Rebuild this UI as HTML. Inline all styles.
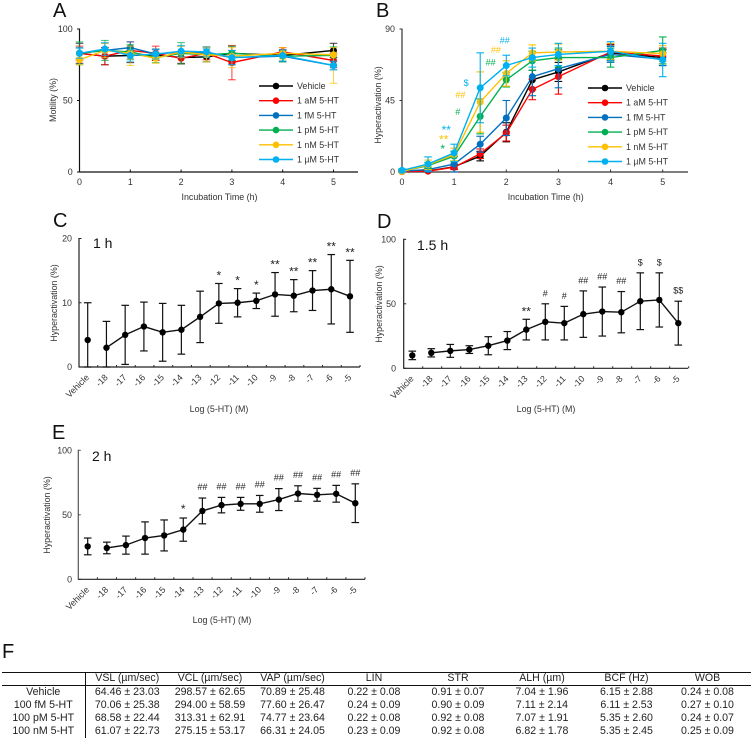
<!DOCTYPE html>
<html lang="en">
<head>
<meta charset="utf-8">
<title>Motility and hyperactivation charts</title>
<style>
html,body{margin:0;padding:0;background:#fff;width:751px;height:739px;overflow:hidden}
svg{position:absolute;left:0;top:0;font-family:"Liberation Sans",Arial,sans-serif;filter:blur(0.3px)}
#motion-table{position:absolute;left:2px;top:672px;width:749px;table-layout:fixed;border-collapse:collapse;font-family:"Liberation Sans",Arial,sans-serif;font-size:10.6px;color:#222;border-top:1.4px solid #111;filter:blur(0.3px)}
#motion-table td,#motion-table th{padding:0;text-align:center;font-weight:normal;white-space:nowrap;height:13.2px;line-height:13.2px}
#motion-table thead th{height:11.5px;line-height:11.5px;border-bottom:1.6px solid #111}
#motion-table tr>*:first-child{border-right:1.8px solid #111}
</style>
</head>
<body>
<svg id="chart" width="751" height="739" viewBox="0 0 751 739" xmlns="http://www.w3.org/2000/svg"></svg>

<table id="motion-table">
<colgroup><col style="width:83px"><col style="width:84px"><col style="width:82px"><col style="width:83px"><col style="width:80px"><col style="width:88px"><col style="width:80px"><col style="width:89px"><col style="width:73px"><col style="width:7px"></colgroup>
<thead><tr><th></th><th>VSL (µm/sec)</th><th>VCL (µm/sec)</th><th>VAP (µm/sec)</th><th>LIN</th><th>STR</th><th>ALH (µm)</th><th>BCF (Hz)</th><th>WOB</th><th></th></tr></thead>
<tbody>
<tr><td>Vehicle</td><td>64.46 ± 23.03</td><td>298.57 ± 62.65</td><td>70.89 ± 25.48</td><td>0.22 ± 0.08</td><td>0.91 ± 0.07</td><td>7.04 ± 1.96</td><td>6.15 ± 2.88</td><td>0.24 ± 0.08</td><td></td></tr>
<tr><td>100 fM 5-HT</td><td>70.06 ± 25.38</td><td>294.00 ± 58.59</td><td>77.60 ± 26.47</td><td>0.24 ± 0.09</td><td>0.90 ± 0.09</td><td>7.11 ± 2.14</td><td>6.11 ± 2.53</td><td>0.27 ± 0.10</td><td></td></tr>
<tr><td>100 pM 5-HT</td><td>68.58 ± 22.44</td><td>313.31 ± 62.91</td><td>74.77 ± 23.64</td><td>0.22 ± 0.08</td><td>0.92 ± 0.08</td><td>7.07 ± 1.91</td><td>5.35 ± 2.60</td><td>0.24 ± 0.07</td><td></td></tr>
<tr><td>100 nM 5-HT</td><td>61.07 ± 22.73</td><td>275.15 ± 53.17</td><td>66.31 ± 24.05</td><td>0.23 ± 0.09</td><td>0.92 ± 0.08</td><td>6.82 ± 1.78</td><td>5.35 ± 2.45</td><td>0.25 ± 0.09</td><td></td></tr>
</tbody>
</table>

<script>
/* ---------- Time-course data (panels A, B) ---------- */
const hours = [0, 0.5, 1, 1.5, 2, 2.5, 3, 4, 5];
const seriesNames = ["Vehicle", "1 aM 5-HT", "1 fM 5-HT", "1 pM 5-HT", "1 nM 5-HT", "1 µM 5-HT"];
const seriesColors = ["#000000", "#ff0000", "#0070c0", "#00b050", "#ffc000", "#00b0f0"];

const motilityVehicle = [83, 81, 81.5, 82, 80, 80.5, 83, 81.5, 85];
const motilityAM = [83, 81, 85, 83, 79.5, 83, 76.5, 84, 78];
const motilityFM = [83, 85, 87, 82.5, 84, 83, 80, 81, 74.5];
const motilityPM = [83, 85, 84, 80, 83, 82, 83, 81, 81.5];
const motilityNM = [78.5, 85, 83, 79.5, 84, 82, 81, 83, 82];
const motilityUM = [83, 86, 81.5, 82.5, 84.5, 84, 80, 81.5, 74.5];
const motilityErrVehicle = [7, 6, 5, 4, 4, 3.5, 5, 4, 5];
const motilityErrAM = [5, 6, 6, 5, 4, 4.5, 12, 3, 5];
const motilityErrFM = [4, 5, 4, 3, 4, 3, 5, 4, 3];
const motilityErrPM = [8, 7, 5, 3.5, 7.5, 5, 5, 4, 6];
const motilityErrNM = [3.5, 5, 8.5, 3.5, 4, 5, 8, 4, 20];
const motilityErrUM = [3.5, 4.5, 4, 3.5, 4, 3.5, 5, 4, 3];
const motilityErrUpNM = [3.5, 5, 5, 3.5, 4, 5, 6, 4, 5];

const hyperVehicle = [0.3, 0.7, 3.3, 10, 25, 58, 63, 75, 72];
const hyperAM = [0.2, 0.5, 3, 11.5, 24.5, 52, 60, 75.5, 73];
const hyperFM = [0.5, 1.5, 5, 17.5, 34, 60, 65, 74, 71];
const hyperPM = [0.5, 4, 10, 35, 58, 70, 72, 72, 76.5];
const hyperNM = [0.3, 4.5, 11, 44, 62, 75, 75.5, 76, 74.5];
const hyperUM = [1, 5, 12, 53, 67, 72, 74, 76, 70.5];
const hyperErrVehicle = [0.5, 0.7, 1.5, 3, 6, 6, 6, 5, 5];
const hyperErrAM = [0.4, 0.6, 1.5, 3, 5, 6.5, 11, 5, 5];
const hyperErrFM = [0.7, 1, 5, 5, 11, 12, 12, 5, 4];
const hyperErrPM = [0.8, 2, 3, 11, 4.5, 6, 6, 6, 8.5];
const hyperErrNM = [0.8, 3, 4, 19, 8, 5, 5, 5, 5];
const hyperErrUM = [1, 4.5, 5.5, 22, 6.5, 6, 7, 6, 10.5];

/* ---------- Dose-response data (panels C, D, E) ---------- */
const doseLabels = ["Vehicle", "-18", "-17", "-16", "-15", "-14", "-13", "-12", "-11", "-10", "-9", "-8", "-7", "-6", "-5"];

const meanC = [4.2, 3.0, 5.0, 6.3, 5.4, 5.8, 7.8, 9.9, 10.0, 10.3, 11.3, 11.1, 11.9, 12.1, 11.0];
const errC = [5.8, 4.1, 4.6, 3.8, 4.5, 3.8, 4.0, 3.1, 2.2, 1.2, 3.4, 2.5, 3.1, 5.4, 5.6];
const marksC = ["", "", "", "", "", "", "", "*", "*", "*", "**", "**", "**", "**", "**"];

const meanD = [10, 12, 13.5, 14.5, 17.5, 21.5, 30, 36, 35, 42, 44, 43.5, 52, 53, 35];
const errD = [3.3, 3.2, 5, 3, 7, 7, 8, 14, 13, 18, 19, 16, 22, 21, 17];
const marksD = ["", "", "", "", "", "", "**", "#", "#", "##", "##", "##", "$", "$", "$$"];

const meanE = [25.5, 24.3, 26.5, 32, 34, 38.5, 53, 57.5, 58.5, 58.5, 61.8, 66.5, 65.5, 66.3, 59];
const errE = [6.5, 4.5, 7, 12.5, 12, 9, 10, 6, 5, 6.5, 8.5, 6, 5, 6.5, 15];
const marksE = ["", "", "", "", "", "*", "##", "##", "##", "##", "##", "##", "##", "##", "##"];

const svg = document.getElementById('chart');
const NS = 'http://www.w3.org/2000/svg';

function make(tag, attrs, parent, txt) {
  const el = document.createElementNS(NS, tag);
  for (const k in attrs) el.setAttribute(k, attrs[k]);
  if (txt !== undefined) el.textContent = txt;
  parent.appendChild(el);
  return el;
}
function label(parent, name, x, y, txt, size, anchor, fill, rotate) {
  const attrs = { x: x, y: y, 'font-size': size, 'text-anchor': anchor, fill: fill };
  if (rotate) attrs.transform = 'rotate(' + rotate + ' ' + x + ' ' + y + ')';
  const t = make('text', attrs, parent, txt);
  
  
  return t;
}
function seg(parent, x1, y1, x2, y2, color, w, op) {
  const l = make('line', { x1: x1, y1: y1, x2: x2, y2: y2, stroke: color, 'stroke-width': w }, parent);
  if (op) l.setAttribute('stroke-opacity', op);
  return l;
}
function panelGroup(name) {
  const g = make('g', {}, svg);
  
  
  return g;
}
function drawYAxis(g, c, ticks) {
  const scale = v => c.y0 + (c.yTop - c.y0) * v / c.yMax;
  seg(g, c.x0, c.yTop - .5, c.x0, c.y0 + .5, c.axisColor, 1.2);
  ticks.forEach(t => {
    const y = scale(t);
    seg(g, c.x0 + (c.tickLeft ? -2.5 : 0), y, c.x0 + (c.tickLeft ? 0 : 2.5), y, c.axisColor, 1);
    label(g, 'y-tick-label', c.labelX, y + 3, String(t), 8.9, 'end', '#333');
  });
}
function panelLetter(g, txt, x, y) {
  label(g, 'panel-letter-' + txt.toLowerCase(), x, y, txt, 20, 'start', '#111');
}

/* ---------- Panels A and B ---------- */
function timePanel(c, means, errs, upErrs, ticks) {
  const g = panelGroup(c.name);
  const sx = h => c.x0 + (c.x5 - c.x0) * h / 5;
  const sy = v => c.y0 + (c.yTop - c.y0) * v / c.yMax;
  panelLetter(g, c.letter, c.letterX, 17);
  drawYAxis(g, c, ticks);
  seg(g, c.x0, c.y0, c.xEnd, c.y0, c.axisColor, 1.2);
  for (let h = 0; h <= 5; h++) {
    seg(g, sx(h), c.y0, sx(h), c.y0 - 2.5, c.axisColor, 1);
    label(g, 'x-tick-label', sx(h), 185, String(h), 8.9, 'middle', '#333');
  }
  label(g, 'x-axis-title', c.titleX, 200, 'Incubation Time (h)', 8.9, 'middle', '#333');
  label(g, 'y-axis-title', c.yTitleX, c.yTitleY, c.yTitle, 8.9, 'middle', '#333', -90);

  means.forEach((vals, s) => {
    const sg = make('g', {}, g);
    
    
    const col = seriesColors[s];
    vals.forEach((v, i) => {
      const e = errs[s][i], eu = upErrs[s][i], x = sx(hours[i]);
      const up = sy(v + eu), lo = sy(Math.max(v - e, 0));
      seg(sg, x, up, x, lo, col, 1.1, c.errOpacity);
      seg(sg, x - 3.8, up, x + 3.8, up, col, 1.1, c.errOpacity);
      seg(sg, x - 3.8, lo, x + 3.8, lo, col, 1.1, c.errOpacity);
    });
    const pts = vals.map((v, i) => sx(hours[i]) + ',' + sy(v)).join(' ');
    make('polyline', { points: pts, fill: 'none', stroke: col, 'stroke-width': 1.4 }, sg);
    vals.forEach((v, i) => {
      const dot = make('circle', { cx: sx(hours[i]), cy: sy(v), r: 3.5, fill: col }, sg);
      
      
    });
  });

  seriesNames.forEach((n, s) => {
    const ly = c.legendY + s * c.legendStep;
    const lg = make('g', {}, g);
    
    
    seg(lg, c.legendX, ly, c.legendX + 34, ly, seriesColors[s], 1.4);
    make('circle', { cx: c.legendX + 17, cy: ly, r: 3.3, fill: seriesColors[s] }, lg);
    label(lg, 'legend-label', c.legendX + 38, ly + 3, n, 8.9, 'start', '#333');
  });
  return g;
}

timePanel({ name: 'panel-a-motility', letter: 'A', letterX: 53, x0: 79.5, x5: 333.5, xEnd: 358, y0: 172, yTop: 29, yMax: 100,
  labelX: 72.7, tickLeft: true, axisColor: '#111', titleX: 219.5, yTitle: 'Motility (%)', yTitleX: 56, yTitleY: 100,
  legendX: 259, legendY: 86, legendStep: 14.7, errOpacity: 0.7 },
  [motilityVehicle, motilityAM, motilityFM, motilityPM, motilityNM, motilityUM],
  [motilityErrVehicle, motilityErrAM, motilityErrFM, motilityErrPM, motilityErrNM, motilityErrUM],
  [motilityErrVehicle, motilityErrAM, motilityErrFM, motilityErrPM, motilityErrUpNM, motilityErrUM],
  [0, 50, 100]);

const gB = timePanel({ name: 'panel-b-hyperactivation', letter: 'B', letterX: 376, x0: 402, x5: 662.7, xEnd: 688, y0: 172, yTop: 29, yMax: 90,
  labelX: 395, tickLeft: true, axisColor: '#333', titleX: 545.7, yTitle: 'Hyperactivation (%)', yTitleX: 381, yTitleY: 105,
  legendX: 588, legendY: 88, legendStep: 14.7, errOpacity: 1 },
  [hyperVehicle, hyperAM, hyperFM, hyperPM, hyperNM, hyperUM],
  [hyperErrVehicle, hyperErrAM, hyperErrFM, hyperErrPM, hyperErrNM, hyperErrUM],
  [hyperErrVehicle, hyperErrAM, hyperErrFM, hyperErrPM, hyperErrNM, hyperErrUM],
  [0, 45, 90]);

const bNoteText = ["**", "**", "*", "#", "##", "$", "##", "##", "##"];
const bNoteSeries = [5, 4, 3, 3, 4, 5, 3, 4, 5];
const bNoteHour = [0.85, 0.8, 0.78, 1.07, 1.12, 1.23, 1.7, 1.8, 1.97];
const bNoteValue = [27, 21, 15, 38, 48.5, 56, 69, 77, 83];
bNoteText.forEach((t, i) => {
  const x = 402 + (662.7 - 402) * bNoteHour[i] / 5;
  const y = 172 + (29 - 172) * bNoteValue[i] / 90;
  const star = t.indexOf('*') >= 0;
  label(gB, 'significance-mark', x, y + (star ? 5 : 3.2), t, star ? 12 : 9, 'middle', seriesColors[bNoteSeries[i]]);
});

/* ---------- Panels C, D, E ---------- */
function dosePanel(c, mean, err, marks, ticks) {
  const g = panelGroup(c.name);
  const sx = i => c.x1 + (c.x2 - c.x1) * i / 14;
  const sy = v => c.y0 + (c.yTop - c.y0) * v / c.yMax;
  panelLetter(g, c.letter, c.letterX, c.letterY);
  drawYAxis(g, c, ticks);
  seg(g, c.x0, c.y0, c.xEnd, c.y0, '#222', 1.2);
  const step = (c.x2 - c.x1) / 14;
  doseLabels.forEach((d, i) => {
    const tx = c.x0 + step * (i + 1);
    seg(g, tx, c.y0, tx, c.y0 - 2, '#222', 1);
    label(g, 'x-tick-label', sx(i) + 2, c.y0 + 11, d, 8.9, 'end', '#333', -45);
  });
  label(g, 'x-axis-title', c.titleX, c.titleY, 'Log (5-HT) (M)', 8.9, 'middle', '#333');
  label(g, 'y-axis-title', c.yTitleX, c.yTitleY, 'Hyperactivation (%)', 8.9, 'middle', '#333', -90);
  label(g, 'time-label', c.noteX, c.noteY, c.note, 14, 'start', '#111');

  mean.forEach((v, i) => {
    const x = sx(i), up = sy(v + err[i]), lo = sy(Math.max(v - err[i], 0));
    seg(g, x, up, x, lo, '#111', 1.2);
    seg(g, x - 3.8, up, x + 3.8, up, '#111', 1.2);
    seg(g, x - 3.8, lo, x + 3.8, lo, '#111', 1.2);
    if (marks[i]) {
      const star = marks[i].indexOf('*') >= 0;
      label(g, 'significance-mark', x, up - (star ? c.starGap : c.hashGap), marks[i], star ? 12 : 9, 'middle', '#222');
    }
  });
  const pts = mean.slice(1).map((v, i) => sx(i + 1) + ',' + sy(v)).join(' ');
  make('polyline', { points: pts, fill: 'none', stroke: '#111', 'stroke-width': 1.4 }, g);
  mean.forEach((v, i) => {
    const dot = make('circle', { cx: sx(i), cy: sy(v), r: 3.2, fill: '#000' }, g);
    
    
  });
}

dosePanel({ name: 'panel-c-1h', letter: 'C', letterX: 53, letterY: 227, x0: 79, x1: 87.7, x2: 350, xEnd: 360, y0: 367, yTop: 238.5, yMax: 20,
  labelX: 72, tickLeft: false, axisColor: '#222', titleX: 219, titleY: 412, yTitleX: 57, yTitleY: 303, note: '1 h', noteX: 93, noteY: 248, starGap: 4, hashGap: 5 },
  meanC, errC, marksC, [0, 10, 20]);

dosePanel({ name: 'panel-d-1-5h', letter: 'D', letterX: 377, letterY: 228, x0: 403.7, x1: 412.3, x2: 678.3, xEnd: 688, y0: 368.3, yTop: 239.3, yMax: 100,
  labelX: 396, tickLeft: false, axisColor: '#222', titleX: 546, titleY: 412, yTitleX: 382, yTitleY: 304, note: '1.5 h', noteX: 417, noteY: 250, starGap: 4, hashGap: 7.5 },
  meanD, errD, marksD, [0, 50, 100]);

dosePanel({ name: 'panel-e-2h', letter: 'E', letterX: 52, letterY: 439, x0: 78.3, x1: 87.7, x2: 355.3, xEnd: 365, y0: 579.3, yTop: 450.3, yMax: 100,
  labelX: 72, tickLeft: false, axisColor: '#555', titleX: 222, titleY: 623, yTitleX: 50, yTitleY: 515, note: '2 h', noteX: 92, noteY: 461, starGap: 5, hashGap: 8 },
  meanE, errE, marksE, [0, 50, 100]);

const gF = panelGroup('panel-f-label');
panelLetter(gF, 'F', 2, 658);
</script>
</body>
</html>
